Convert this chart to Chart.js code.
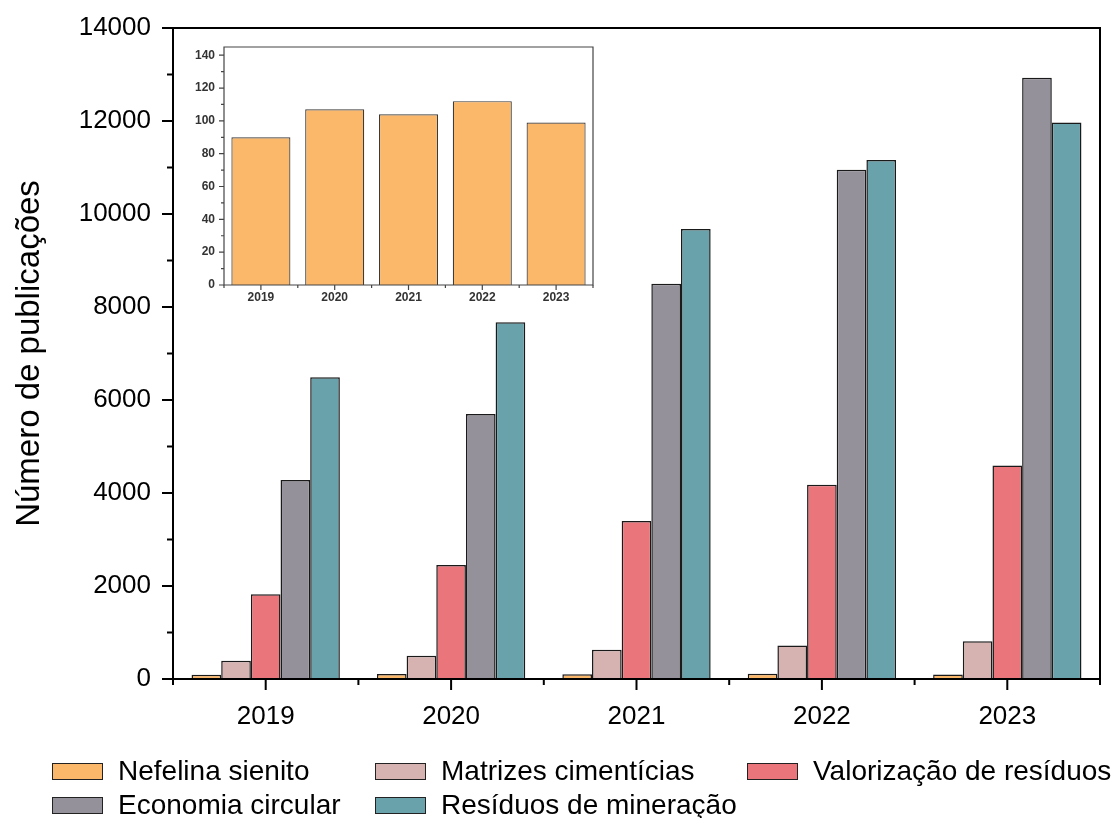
<!DOCTYPE html>
<html lang="pt">
<head>
<meta charset="utf-8">
<title>Número de publicações</title>
<script src="https://cdn.jsdelivr.net/npm/chart.js@4.4.1/dist/chart.umd.min.js"></script>
<style>
  html, body { margin: 0; padding: 0; background: #fff; }
  #wrap { position: relative; width: 1120px; height: 818px; font-family: "Liberation Sans", Arial, sans-serif; overflow: hidden; }
  #main { position: absolute; left: 0; top: 0; }
  #inset { position: absolute; left: 170px; top: 36px; }
  #legend { position: absolute; left: 52px; top: 759px; display: grid; grid-template-columns: 323px 372px auto; row-gap: 10px; }
  .item { display: flex; align-items: center; height: 24px; font-size: 28px; color: #000; white-space: nowrap; }
  .swatch { width: 49px; height: 15px; border: 1.5px solid #222; margin-right: 15px; flex: none; }
</style>
</head>
<body>
<div id="wrap">
  <canvas id="main" width="1120" height="818"></canvas>
  <canvas id="inset" width="440" height="272"></canvas>
  <div id="legend"></div>
</div>
<script>
// Publications per year and per search term
const years = ['2019', '2020', '2021', '2022', '2023'];
const nefelinaSienito     = [90, 107, 104, 112, 99];
const matrizesCimenticias = [390, 500, 630, 720, 810];
const valorizacaoResiduos = [1820, 2450, 3400, 4180, 4590];
const economiaCircular    = [4280, 5700, 8500, 10950, 12930];
const residuosMineracao   = [6490, 7670, 9680, 11160, 11970];

const seriesNames  = ['Nefelina sienito', 'Matrizes cimentícias', 'Valorização de resíduos', 'Economia circular', 'Resíduos de mineração'];
const seriesValues = [nefelinaSienito, matrizesCimenticias, valorizacaoResiduos, economiaCircular, residuosMineracao];
const seriesColors = ['#FBB86B', '#D6B3B1', '#EA767C', '#95919B', '#69A2AA'];

const mainYTicks  = [0, 2000, 4000, 6000, 8000, 10000, 12000, 14000];
const insetYTicks = [0, 20, 40, 60, 80, 100, 120, 140];

const FONT = '"Liberation Sans", Arial, sans-serif';

// Draws the boxed frame plus major/minor outward tick marks for both axes
const frameTicks = {
  id: 'frameTicks',
  afterDraw(chart, args, o) {
    const { ctx, chartArea: a, scales: { x, y } } = chart;
    ctx.save();
    ctx.strokeStyle = o.color;
    ctx.lineWidth = o.width;
    ctx.lineCap = 'square';
    ctx.beginPath();
    ctx.moveTo(a.left, a.top); ctx.lineTo(a.right, a.top);
    ctx.lineTo(a.right, a.bottom); ctx.lineTo(a.left, a.bottom);
    ctx.closePath();
    ctx.stroke();

    ctx.lineCap = 'butt';
    ctx.beginPath();
    const yt = y.ticks.map(t => t.value);
    yt.forEach((v, i) => {
      const py = y.getPixelForValue(v);
      ctx.moveTo(a.left, py); ctx.lineTo(a.left - o.major, py);
      if (i < yt.length - 1) {
        const pm = y.getPixelForValue((v + yt[i + 1]) / 2);
        ctx.moveTo(a.left, pm); ctx.lineTo(a.left - o.minor, pm);
      }
    });
    const n = x.ticks.length;
    for (let i = 0; i < n; i++) {
      const px = x.getPixelForValue(i);
      ctx.moveTo(px, a.bottom); ctx.lineTo(px, a.bottom + o.major);
    }
    for (let k = 0; k <= n; k++) {
      const px = x.getPixelForDecimal(k / n);
      ctx.moveTo(px, a.bottom); ctx.lineTo(px, a.bottom + o.minor);
    }
    ctx.stroke();
    ctx.restore();
  }
};

function fixWidth(w) {
  return s => { s.width = w; s.paddingTop = 0; s.paddingBottom = 0; };
}
function fixHeight(h) {
  return s => { s.height = h; s.paddingLeft = 0; s.paddingRight = 0; };
}
const plain = v => String(v);

// Main grouped bar chart
new Chart(document.getElementById('main'), {
  type: 'bar',
  data: {
    labels: years,
    datasets: seriesNames.map((name, i) => ({
      label: name,
      data: seriesValues[i],
      backgroundColor: seriesColors[i],
      borderColor: '#1a1a1a',
      borderWidth: 1.5,
      categoryPercentage: 0.8,
      barPercentage: 1.0
    }))
  },
  options: {
    responsive: false,
    animation: false,
    layout: { padding: { top: 28, right: 20, left: 0, bottom: 0 } },
    plugins: {
      legend: { display: false },
      tooltip: { enabled: false },
      frameTicks: { color: '#000', width: 2, major: 11, minor: 6 }
    },
    scales: {
      x: {
        grid: { display: false, drawTicks: false },
        border: { display: false },
        ticks: { color: '#000', font: { family: FONT, size: 26 }, padding: 22 },
        afterFit: fixHeight(139)
      },
      y: {
        min: 0, max: 14000,
        afterBuildTicks(s) { s.ticks = mainYTicks.map(v => ({ value: v })); },
        grid: { display: false, drawTicks: false },
        border: { display: false },
        ticks: { color: '#000', font: { family: FONT, size: 26 }, padding: 22, callback: plain },
        title: {
          display: true, text: 'Número de publicações', color: '#000',
          font: { family: FONT, size: 33 }, padding: { top: 10, bottom: 0 }
        },
        afterFit: fixWidth(173)
      }
    }
  },
  plugins: [frameTicks]
});

// Inset: Nefelina sienito on its own scale
new Chart(document.getElementById('inset'), {
  type: 'bar',
  data: {
    labels: years,
    datasets: [{
      label: seriesNames[0],
      data: nefelinaSienito,
      backgroundColor: seriesColors[0],
      borderColor: '#3a3a3a',
      borderWidth: 1.2,
      categoryPercentage: 1.0,
      barPercentage: 0.8
    }]
  },
  options: {
    responsive: false,
    animation: false,
    layout: { padding: { top: 11, right: 17, left: 0, bottom: 0 } },
    plugins: {
      legend: { display: false },
      tooltip: { enabled: false },
      frameTicks: { color: '#444', width: 1.2, major: 5, minor: 3 }
    },
    scales: {
      x: {
        grid: { display: false, drawTicks: false },
        border: { display: false },
        ticks: { color: '#333', font: { family: FONT, size: 12, weight: 'bold' }, padding: 5 },
        afterFit: fixHeight(23)
      },
      y: {
        min: 0, max: 145,
        afterBuildTicks(s) { s.ticks = insetYTicks.map(v => ({ value: v })); },
        grid: { display: false, drawTicks: false },
        border: { display: false },
        ticks: { color: '#333', font: { family: FONT, size: 12, weight: 'bold' }, padding: 9, callback: plain },
        afterFit: fixWidth(54)
      }
    }
  },
  plugins: [frameTicks]
});

// Legend laid out in fixed columns
const legend = document.getElementById('legend');
seriesNames.forEach((name, i) => {
  const item = document.createElement('div');
  item.className = 'item';
  const sw = document.createElement('span');
  sw.className = 'swatch';
  sw.style.background = seriesColors[i];
  const tx = document.createElement('span');
  tx.textContent = name;
  item.appendChild(sw);
  item.appendChild(tx);
  legend.appendChild(item);
});
</script>
</body>
</html>
